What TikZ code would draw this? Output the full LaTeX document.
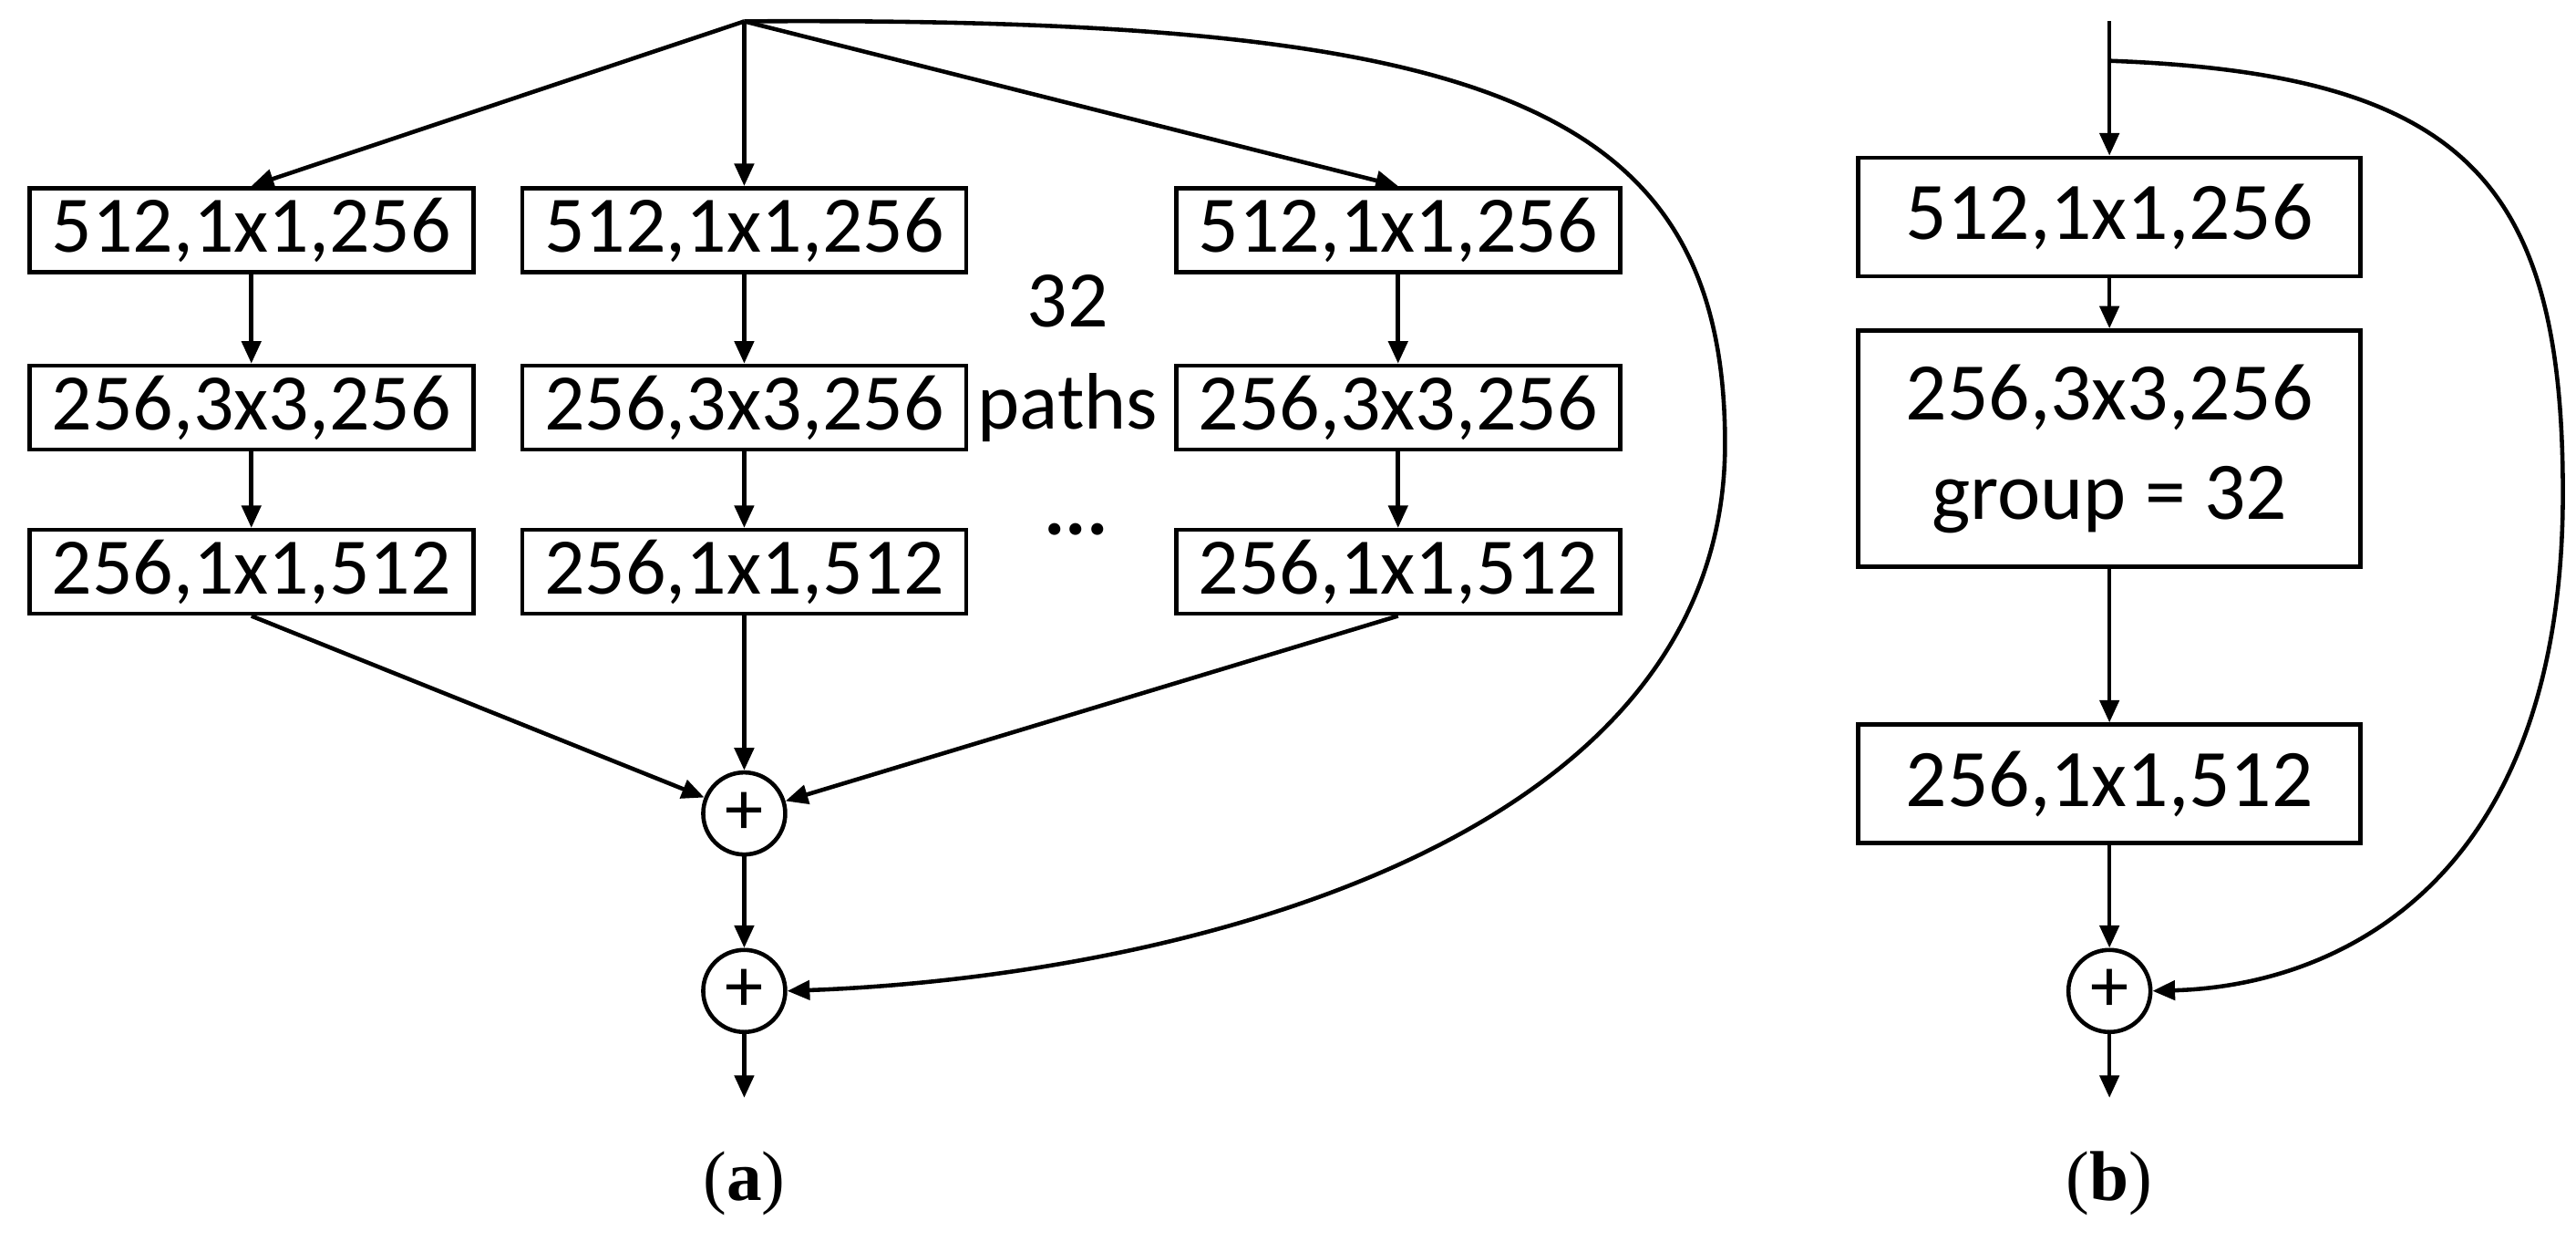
\documentclass[tikz,border=0pt]{standalone}
\usepackage{fontspec}
\setmainfont{Liberation Serif}
\newfontfamily\carl{Carlito}
\usetikzlibrary{arrows.meta}
\begin{document}
\begin{tikzpicture}[x=0.01802cm,y=-0.01802cm,line width=1.3pt,
 arr/.style={-{Triangle[length=7pt,width=6pt]}},
 bx/.style={draw,font=\carl\fontsize{25}{28}\selectfont,minimum width=4.87cm,minimum height=0.92cm,inner sep=0pt},
 bb/.style={draw,font=\carl\fontsize{25.5}{31}\selectfont,minimum width=5.51cm,inner sep=0pt,align=center},
 pl/.style={draw,circle,minimum size=0.9cm,inner sep=0pt,font=\carl\fontsize{24}{26}\selectfont}]
\useasboundingbox (0,0) rectangle (1568,755);
\coordinate (top) at (453,13);
\foreach \n/\x in {l/153,m/453,r/851}{
 \node[bx] (\n1) at (\x,140) {512,1x1,256};
 \node[bx] (\n2) at (\x,248) {256,3x3,256};
 \node[bx] (\n3) at (\x,348) {256,1x1,512};
 \draw[arr] (\n1) -- (\n2);
 \draw[arr] (\n2) -- (\n3);
}
\draw[arr] (top) -- (l1.north);
\draw[arr] (top) -- (m1.north);
\draw[arr] (top) -- (r1.north);
\node[font=\carl\fontsize{25}{28}\selectfont] (t32) at (650,183) {32};
\node[font=\carl\fontsize{25}{28}\selectfont] (tp) at (650,248) {paths};
\node[font=\carl\fontsize{25}{28}\selectfont\bfseries] (dots) at (655,322) {...};
\node[pl] (p1) at (453,495) {+};
\node[pl] (p2) at (453,603) {+};
\coordinate (oa) at (453,668);
\draw[arr] (l3.south) -- (p1);
\draw[arr] (m3.south) -- (p1);
\draw[arr] (r3.south) -- (p1);
\draw[arr] (p1) -- (p2);
\draw[arr] (p2) -- (oa);
\draw[arr] (top) .. controls (900,10) and (1050,60) .. (1050,270) .. controls (1050,520) and (700,595) .. (p2.east);
\node (la) at (453,720) {\fontsize{22}{24}\selectfont(\textbf{a})};
% (b)
\coordinate (tb) at (1284,13);
\coordinate (sb) at (1284,37);
\node[bb,minimum height=1.30cm] (b1) at (1284,132) {512,1x1,256};
\node[bb,minimum height=2.59cm] (b2) at (1284,273) {256,3x3,256\\group = 32};
\node[bb,minimum height=1.30cm] (b3) at (1284,477) {256,1x1,512};
\node[pl] (bp) at (1284,603) {+};
\coordinate (ob) at (1284,668);
\draw[arr] (tb) -- (b1);
\draw[arr] (b1) -- (b2);
\draw[arr] (b2) -- (b3);
\draw[arr] (b3) -- (bp);
\draw[arr] (bp) -- (ob);
\draw[arr] (sb) .. controls (1500,45) and (1560,110) .. (1560,300) .. controls (1560,540) and (1420,600) .. (bp.east);
\node (lb) at (1284,720) {\fontsize{22}{24}\selectfont(\textbf{b})};
\end{tikzpicture}
\end{document}
